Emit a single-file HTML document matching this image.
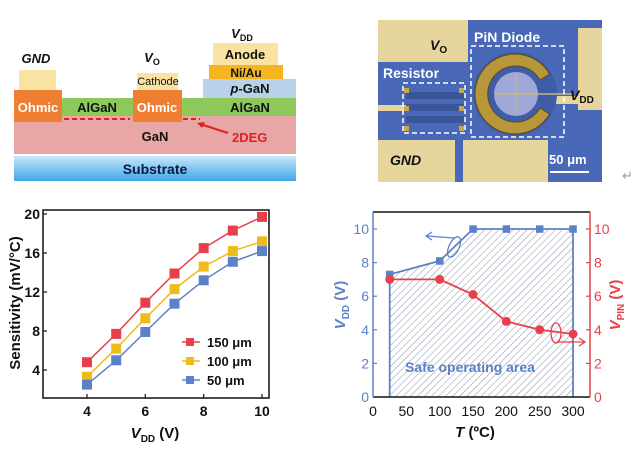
<!DOCTYPE html>
<html><head><meta charset="utf-8"><style>
html,body{margin:0;padding:0;background:#fff;}
svg{display:block;font-family:"Liberation Sans",Arial,sans-serif;}
</style></head><body>
<svg width="639" height="450" viewBox="0 0 639 450" xmlns="http://www.w3.org/2000/svg">
<defs>
<linearGradient id="sub" x1="0" y1="0" x2="0" y2="1"><stop offset="0" stop-color="#c9e8f8"/><stop offset="1" stop-color="#3ea6ea"/></linearGradient>
<pattern id="hatch" width="5" height="5" patternUnits="userSpaceOnUse" patternTransform="rotate(45)"><rect width="5" height="5" fill="#fff"/><line x1="0" y1="0" x2="0" y2="5" stroke="#8a93a8" stroke-width="1"/></pattern>
</defs>
<!-- Device cross-section -->
<rect x="14" y="156" width="282" height="25" fill="url(#sub)"/>
<text x="155" y="174" font-size="14" font-weight="bold" text-anchor="middle" fill="#0a1a40">Substrate</text>
<rect x="14" y="116" width="282" height="38" fill="#e8a6a6"/>
<text x="155" y="141" font-size="13" font-weight="bold" text-anchor="middle" fill="#111">GaN</text>
<rect x="62" y="98" width="234" height="18" fill="#8cc85a"/>
<rect x="14" y="90" width="48" height="32" fill="#ee7f32"/>
<rect x="133" y="90" width="49" height="32" fill="#ee7f32"/>
<text x="38" y="112" font-size="13" font-weight="bold" text-anchor="middle" fill="#fff">Ohmic</text>
<text x="157" y="112" font-size="13" font-weight="bold" text-anchor="middle" fill="#fff">Ohmic</text>
<text x="97" y="112" font-size="13" font-weight="bold" text-anchor="middle" fill="#111">AlGaN</text>
<text x="250" y="112" font-size="13" font-weight="bold" text-anchor="middle" fill="#111">AlGaN</text>
<rect x="19" y="70" width="37" height="20" fill="#fae3a2"/>
<text x="36" y="63" font-size="13" font-weight="bold" font-style="italic" text-anchor="middle" fill="#111">GND</text>
<rect x="137" y="73" width="41" height="17" fill="#fae3a2"/>
<text x="158" y="85" font-size="11" text-anchor="middle" fill="#111">Cathode</text>
<text x="152" y="62" font-size="13" font-weight="bold" font-style="italic" text-anchor="middle" fill="#111">V<tspan font-size="9" dy="3" font-style="normal">O</tspan></text>
<rect x="203" y="79" width="93" height="19" fill="#b9d2ea"/>
<text x="250" y="93" font-size="13" font-weight="bold" text-anchor="middle" fill="#111"><tspan font-style="italic">p</tspan>-GaN</text>
<rect x="209" y="65" width="74" height="14" fill="#f5b51f"/>
<text x="246" y="77" font-size="12" font-weight="bold" text-anchor="middle" fill="#111">Ni/Au</text>
<rect x="213" y="43" width="65" height="22" fill="#fae3a2"/>
<text x="245" y="59" font-size="13" font-weight="bold" text-anchor="middle" fill="#111">Anode</text>
<text x="242" y="38" font-size="13" font-weight="bold" font-style="italic" text-anchor="middle" fill="#111">V<tspan font-size="9" dy="3" font-style="normal">DD</tspan></text>
<line x1="64" y1="119" x2="130" y2="119" stroke="#e02020" stroke-width="2" stroke-dasharray="5,3"/>
<line x1="183" y1="119" x2="200" y2="119" stroke="#e02020" stroke-width="2" stroke-dasharray="5,3"/>
<line x1="228" y1="133" x2="200" y2="124" stroke="#e02020" stroke-width="2"/>
<polygon points="197,123 205,122 202,128" fill="#e02020"/>
<text x="232" y="142" font-size="13" font-weight="bold" fill="#e02020">2DEG</text>

<!-- Micrograph -->
<rect x="378" y="20" width="224" height="162" fill="#e6d59c"/>
<g fill="#4a68b8">
<rect x="468" y="20" width="110" height="120"/>
<rect x="578" y="20" width="24" height="8"/>
<rect x="548" y="110" width="54" height="72"/>
<rect x="548" y="100" width="30" height="40"/>
<rect x="378" y="62" width="90" height="78"/>
<rect x="455" y="130" width="8" height="52"/>
</g>
<rect x="378" y="105" width="28" height="6" fill="#e6d59c"/>
<rect x="553" y="96" width="40" height="8" fill="#e6d59c"/>
<g fill="#3a559a"><rect x="406" y="92" width="58" height="7"/><rect x="406" y="104" width="58" height="7"/><rect x="406" y="116" width="58" height="7"/></g>
<g fill="#c8a848"><rect x="404" y="88" width="5" height="5"/><rect x="404" y="106" width="5" height="5"/><rect x="404" y="126" width="5" height="5"/><rect x="459" y="88" width="5" height="5"/><rect x="459" y="106" width="5" height="5"/><rect x="459" y="126" width="5" height="5"/></g>
<circle cx="515" cy="94" r="42" fill="#3f5ca8"/>
<path d="M549.6,74 A40,40 0 1 0 549.6,114 L540,108 A28,28 0 1 1 540,80 Z" fill="#b8963a" stroke="#5a4a20" stroke-width="1"/>
<circle cx="516" cy="94" r="22" fill="#9fa8d6"/>
<line x1="516" y1="74" x2="516" y2="114" stroke="#c9b87a" stroke-width="1"/>
<line x1="496" y1="94" x2="572" y2="94" stroke="#c9b87a" stroke-width="1.5"/>
<rect x="403" y="83" width="62" height="50" fill="none" stroke="#fff" stroke-width="1.5" stroke-dasharray="5,3"/>
<rect x="471" y="46" width="93" height="91" fill="none" stroke="#fff" stroke-width="1.5" stroke-dasharray="5,3"/>
<text x="383" y="78" font-size="14" font-weight="bold" fill="#fff">Resistor</text>
<text x="474" y="42" font-size="14" font-weight="bold" fill="#fff">PiN Diode</text>
<text x="430" y="50" font-size="14" font-weight="bold" font-style="italic" fill="#111">V<tspan font-size="10" dy="3" font-style="normal">O</tspan></text>
<text x="570" y="100" font-size="14" font-weight="bold" font-style="italic" fill="#111">V<tspan font-size="10" dy="3" font-style="normal">DD</tspan></text>
<text x="390" y="165" font-size="14" font-weight="bold" font-style="italic" fill="#111">GND</text>
<text x="549" y="164" font-size="13" font-weight="bold" fill="#fff">50 μm</text>
<line x1="550" y1="172" x2="589" y2="172" stroke="#fff" stroke-width="2"/>
<text x="622" y="180" font-size="13" fill="#999">↵</text>

<!-- Left chart -->
<rect x="43" y="210" width="226" height="188" fill="none" stroke="#111" stroke-width="1.5"/>
<g stroke="#111" stroke-width="1.2">
<line x1="43" y1="370" x2="47" y2="370"/><line x1="43" y1="331" x2="47" y2="331"/><line x1="43" y1="292" x2="47" y2="292"/><line x1="43" y1="253" x2="47" y2="253"/><line x1="43" y1="214" x2="47" y2="214"/>
<line x1="87" y1="398" x2="87" y2="394"/><line x1="145.3" y1="398" x2="145.3" y2="394"/><line x1="203.7" y1="398" x2="203.7" y2="394"/><line x1="262" y1="398" x2="262" y2="394"/>
</g>
<g font-size="14" font-weight="bold" fill="#111" text-anchor="end">
<text x="40" y="375">4</text><text x="40" y="336">8</text><text x="40" y="297">12</text><text x="40" y="258">16</text><text x="40" y="219">20</text>
</g>
<g font-size="14" font-weight="bold" fill="#111" text-anchor="middle">
<text x="87" y="416">4</text><text x="145.3" y="416">6</text><text x="203.7" y="416">8</text><text x="262" y="416">10</text>
<text x="155" y="438" font-size="15"><tspan font-style="italic">V</tspan><tspan font-size="10" dy="4">DD</tspan><tspan dy="-4"> (V)</tspan></text>
<text transform="translate(20,303) rotate(-90)" font-size="15">Sensitivity (mV/°C)</text>
</g>
<polyline points="87,362.2 116.2,333.9 145.3,302.7 174.5,273.5 203.7,248.1 232.8,230.6 262,216.9" fill="none" stroke="#e8404a" stroke-width="1.5"/>
<polyline points="87,376.8 116.2,348.6 145.3,318.3 174.5,289.1 203.7,266.6 232.8,251.1 262,241.3" fill="none" stroke="#eebc1a" stroke-width="1.5"/>
<polyline points="87,384.6 116.2,360.3 145.3,332 174.5,303.7 203.7,280.3 232.8,261.8 262,251.1" fill="none" stroke="#5b82c8" stroke-width="1.5"/>
<g fill="#e8404a"><rect x="82" y="357.2" width="10" height="10"/><rect x="111.2" y="328.9" width="10" height="10"/><rect x="140.3" y="297.7" width="10" height="10"/><rect x="169.5" y="268.5" width="10" height="10"/><rect x="198.7" y="243.1" width="10" height="10"/><rect x="227.8" y="225.6" width="10" height="10"/><rect x="257" y="211.9" width="10" height="10"/></g>
<g fill="#eebc1a"><rect x="82" y="371.8" width="10" height="10"/><rect x="111.2" y="343.6" width="10" height="10"/><rect x="140.3" y="313.3" width="10" height="10"/><rect x="169.5" y="284.1" width="10" height="10"/><rect x="198.7" y="261.6" width="10" height="10"/><rect x="227.8" y="246.1" width="10" height="10"/><rect x="257" y="236.3" width="10" height="10"/></g>
<g fill="#5b82c8"><rect x="82" y="379.6" width="10" height="10"/><rect x="111.2" y="355.3" width="10" height="10"/><rect x="140.3" y="327" width="10" height="10"/><rect x="169.5" y="298.7" width="10" height="10"/><rect x="198.7" y="275.3" width="10" height="10"/><rect x="227.8" y="256.8" width="10" height="10"/><rect x="257" y="246.1" width="10" height="10"/></g>
<line x1="182" y1="342" x2="200" y2="342" stroke="#e8404a" stroke-width="1.5"/><rect x="186" y="338" width="8" height="8" fill="#e8404a"/>
<line x1="182" y1="361" x2="200" y2="361" stroke="#eebc1a" stroke-width="1.5"/><rect x="186" y="357" width="8" height="8" fill="#eebc1a"/>
<line x1="182" y1="380" x2="200" y2="380" stroke="#5b82c8" stroke-width="1.5"/><rect x="186" y="376" width="8" height="8" fill="#5b82c8"/>
<g font-size="13" font-weight="bold" fill="#111"><text x="207" y="347">150 μm</text><text x="207" y="366">100 μm</text><text x="207" y="385">50 μm</text></g>

<!-- Right chart -->
<polygon points="389.7,397 389.7,274.4 439.7,260.9 473,229 573,229 573,397" fill="url(#hatch)"/>
<polyline points="389.7,397 389.7,274.4 439.7,260.9 473,229 573,229 573,397" fill="none" stroke="#5b82c8" stroke-width="1.8"/>
<g fill="#5b82c8"><rect x="386" y="270.7" width="7.5" height="7.5"/><rect x="436" y="257.2" width="7.5" height="7.5"/><rect x="469.3" y="225.3" width="7.5" height="7.5"/><rect x="502.6" y="225.3" width="7.5" height="7.5"/><rect x="536" y="225.3" width="7.5" height="7.5"/><rect x="569.3" y="225.3" width="7.5" height="7.5"/></g>
<polyline points="389.7,279.4 439.7,279.4 473,294.5 506.3,321.4 539.7,329.8 573,334" fill="none" stroke="#e8404a" stroke-width="1.8"/>
<g fill="#e8404a"><circle cx="389.7" cy="279.4" r="4.5"/><circle cx="439.7" cy="279.4" r="4.5"/><circle cx="473" cy="294.5" r="4.5"/><circle cx="506.3" cy="321.4" r="4.5"/><circle cx="539.7" cy="329.8" r="4.5"/><circle cx="573" cy="334" r="4.5"/></g>
<line x1="373" y1="212" x2="590" y2="212" stroke="#111" stroke-width="1.5"/>
<line x1="373" y1="397" x2="590" y2="397" stroke="#111" stroke-width="1.5"/>
<line x1="373" y1="212" x2="373" y2="397" stroke="#5b82c8" stroke-width="1.5"/>
<line x1="590" y1="212" x2="590" y2="397" stroke="#e8404a" stroke-width="1.5"/>
<g stroke="#5b82c8" stroke-width="1.2"><line x1="373" y1="363.4" x2="377" y2="363.4"/><line x1="373" y1="329.8" x2="377" y2="329.8"/><line x1="373" y1="296.2" x2="377" y2="296.2"/><line x1="373" y1="262.6" x2="377" y2="262.6"/><line x1="373" y1="229" x2="377" y2="229"/></g>
<g stroke="#e8404a" stroke-width="1.2"><line x1="586" y1="363.4" x2="590" y2="363.4"/><line x1="586" y1="329.8" x2="590" y2="329.8"/><line x1="586" y1="296.2" x2="590" y2="296.2"/><line x1="586" y1="262.6" x2="590" y2="262.6"/><line x1="586" y1="229" x2="590" y2="229"/></g>
<g font-size="14" fill="#5b82c8" text-anchor="end"><text x="369" y="402">0</text><text x="369" y="368.4">2</text><text x="369" y="334.8">4</text><text x="369" y="301.2">6</text><text x="369" y="267.6">8</text><text x="369" y="234">10</text></g>
<g font-size="14" fill="#e8404a"><text x="594" y="402">0</text><text x="594" y="368.4">2</text><text x="594" y="334.8">4</text><text x="594" y="301.2">6</text><text x="594" y="267.6">8</text><text x="594" y="234">10</text></g>
<g font-size="14" fill="#111" text-anchor="middle"><text x="373" y="416">0</text><text x="406.3" y="416">50</text><text x="439.7" y="416">100</text><text x="473" y="416">150</text><text x="506.3" y="416">200</text><text x="539.7" y="416">250</text><text x="573" y="416">300</text></g>
<text x="475" y="437" font-size="15" font-weight="bold" text-anchor="middle" fill="#111"><tspan font-style="italic">T</tspan> (ºC)</text>
<text transform="translate(345,305) rotate(-90)" font-size="15" font-weight="bold" fill="#5b82c8" text-anchor="middle"><tspan font-style="italic">V</tspan><tspan font-size="10" dy="4">DD</tspan><tspan dy="-4"> (V)</tspan></text>
<text transform="translate(620,305) rotate(-90)" font-size="15" font-weight="bold" fill="#e8404a" text-anchor="middle"><tspan font-style="italic">V</tspan><tspan font-size="10" dy="4">PIN</tspan><tspan dy="-4"> (V)</tspan></text>
<text x="405" y="372" font-size="14" font-weight="bold" fill="#5b82c8">Safe operating area</text>
<ellipse cx="454" cy="247" rx="5" ry="11" transform="rotate(25 454 247)" fill="none" stroke="#5b82c8" stroke-width="1.3"/>
<line x1="454" y1="238" x2="427" y2="236" stroke="#5b82c8" stroke-width="1.3"/>
<polyline points="432,232 426,236 432,240" fill="none" stroke="#5b82c8" stroke-width="1.3"/>
<ellipse cx="556" cy="333" rx="5" ry="10" fill="none" stroke="#e8404a" stroke-width="1.3"/>
<line x1="558" y1="342" x2="585" y2="342" stroke="#e8404a" stroke-width="1.3"/>
<polyline points="579,338 585,342 579,346" fill="none" stroke="#e8404a" stroke-width="1.3"/>
</svg>
</body></html>
